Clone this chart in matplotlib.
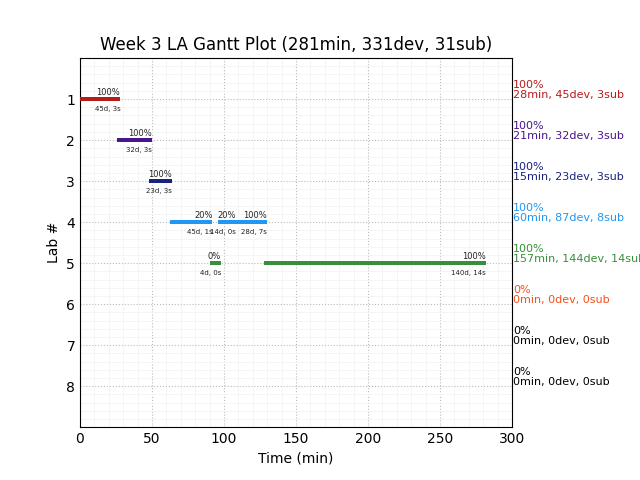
import matplotlib
matplotlib.use("Agg")
import matplotlib.pyplot as plt
from matplotlib.ticker import MultipleLocator

labs = [1, 2, 3, 4, 5, 6, 7, 8]
colors = ["#B71C1C", "#4A148C", "#1A237E", "#2196F3", "#388E3C", "#F4511E", "#000000", "#000000"]

# segments per lab: (lab, start, end, pct label, info label)
seg_lab = [1, 2, 3, 4, 4, 4, 5, 5]
seg_start = [0, 26, 48, 62.5, 96, 108, 90, 128]
seg_end = [28, 50, 64, 92, 108, 130, 98, 282]
seg_pct = ["100%", "100%", "100%", "20%", "20%", "100%", "0%", "100%"]
seg_info = ["45d, 3s", "32d, 3s", "23d, 3s", "45d, 1s", "14d, 0s", "28d, 7s", "4d, 0s", "140d, 14s"]

lab_pct = ["100%", "100%", "100%", "100%", "100%", "0%", "0%", "0%"]
lab_min = [28, 21, 15, 60, 157, 0, 0, 0]
lab_dev = [45, 32, 23, 87, 144, 0, 0, 0]
lab_sub = [3, 3, 3, 8, 14, 0, 0, 0]

title = "Week 3 LA Gantt Plot (281min, 331dev, 31sub)"

fig = plt.figure(figsize=(6.4, 4.8), dpi=100)
ax = fig.add_axes([0.125, 0.11, 0.675, 0.769])

for lab, s, e, p, info in zip(seg_lab, seg_start, seg_end, seg_pct, seg_info):
    c = colors[lab - 1]
    ax.barh(lab, e - s, left=s, height=0.1, color=c, zorder=3)
    ax.text(e, lab - 0.17, p, ha="right", va="center", fontsize=6, color="#222222")
    ax.text(e, lab + 0.23, info, ha="right", va="center", fontsize=5, color="#222222")

for i, lab in enumerate(labs):
    ax.text(1.003, lab - 0.22,
            f"{lab_pct[i]}\n{lab_min[i]}min, {lab_dev[i]}dev, {lab_sub[i]}sub",
            transform=ax.get_yaxis_transform(), ha="left", va="center",
            fontsize=8, color=colors[i], clip_on=False, linespacing=1.0)

ax.set_xlim(0, 300)
ax.set_ylim(9, 0)
ax.set_yticks(labs)
ax.xaxis.set_minor_locator(MultipleLocator(10))
ax.yaxis.set_minor_locator(MultipleLocator(0.2))
ax.grid(which="major", linestyle=":", color="#bbbbbb", linewidth=0.8)
ax.grid(which="minor", linestyle="-", color="#f4f4f4", linewidth=0.6)
ax.set_axisbelow(True)
ax.tick_params(which="both", length=0)
ax.set_xlabel("Time (min)")
ax.set_ylabel("Lab #")
ax.set_title(title)

fig.savefig("out.png", dpi=100)
